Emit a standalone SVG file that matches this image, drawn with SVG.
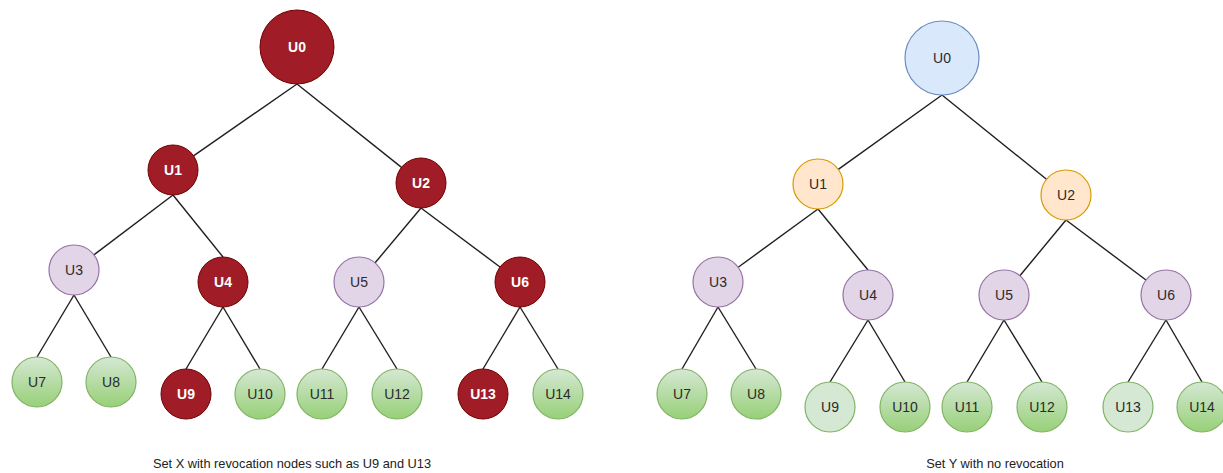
<svg xmlns="http://www.w3.org/2000/svg" width="1223" height="473" viewBox="0 0 1223 473">
<defs>
<linearGradient id="gGreen" x1="0" y1="0" x2="0" y2="1">
<stop offset="0" stop-color="#d5e8d4"/>
<stop offset="1" stop-color="#97d077"/>
</linearGradient>
<style>
.red{fill:#a01c26;stroke:#6f0000;stroke-width:1}
.green{fill:url(#gGreen);stroke:#82b366;stroke-width:1.2}
.lgreen{fill:#d5e8d4;stroke:#82b366;stroke-width:1.2}
.purple{fill:#e1d5e7;stroke:#9673a6;stroke-width:1.2}
.orange{fill:#ffe6cc;stroke:#d79b00;stroke-width:1.2}
.blue{fill:#dae8fc;stroke:#6c8ebf;stroke-width:1.2}
text{font-family:"Liberation Sans",Arial,sans-serif;font-size:14px;text-anchor:middle;dominant-baseline:central}
.wt{fill:#ffffff;font-weight:bold}
.dt{fill:#2b2b2b}
.cap{font-size:12.8px;fill:#222222}
.edges line{stroke:#1f1f1f;stroke-width:1.4}
</style>
</defs>
<rect width="1223" height="473" fill="#ffffff"/>
<g class="edges" id="connectors">
<line x1="297" y1="84" x2="193.5" y2="155.8"/>
<line x1="297" y1="84" x2="401.5" y2="167.4"/>
<line x1="173" y1="195" x2="93.9" y2="254.9"/>
<line x1="173" y1="195" x2="223" y2="257"/>
<line x1="421" y1="208" x2="375.1" y2="262.8"/>
<line x1="421" y1="208" x2="500" y2="267"/>
<line x1="74" y1="295" x2="37" y2="357"/>
<line x1="74" y1="295" x2="111" y2="357"/>
<line x1="223" y1="307" x2="186" y2="369"/>
<line x1="223" y1="307" x2="260" y2="369"/>
<line x1="359" y1="307" x2="322" y2="369"/>
<line x1="359" y1="307" x2="397" y2="369"/>
<line x1="520" y1="307" x2="483" y2="369"/>
<line x1="520" y1="307" x2="558" y2="369"/>
<line x1="942" y1="95" x2="838.3" y2="169.4"/>
<line x1="942" y1="95" x2="1046.5" y2="179.3"/>
<line x1="818" y1="209" x2="738.2" y2="267.3"/>
<line x1="818" y1="209" x2="868" y2="270"/>
<line x1="1066" y1="220" x2="1019.9" y2="275.7"/>
<line x1="1066" y1="220" x2="1146" y2="280"/>
<line x1="718" y1="307" x2="682" y2="369"/>
<line x1="718" y1="307" x2="756" y2="369"/>
<line x1="868" y1="320" x2="830" y2="382"/>
<line x1="868" y1="320" x2="905" y2="382"/>
<line x1="1004" y1="320" x2="967" y2="382"/>
<line x1="1004" y1="320" x2="1042" y2="382"/>
<line x1="1166" y1="320" x2="1128" y2="382"/>
<line x1="1166" y1="320" x2="1202" y2="382"/>
</g>
<g id="X-U0"><circle class="red" cx="297" cy="47" r="37"/><text class="wt" x="297" y="47">U0</text></g>
<g id="X-U1"><circle class="red" cx="173" cy="170" r="25"/><text class="wt" x="173" y="170">U1</text></g>
<g id="X-U2"><circle class="red" cx="421" cy="183" r="25"/><text class="wt" x="421" y="183">U2</text></g>
<g id="X-U3"><circle class="purple" cx="74" cy="270" r="25"/><text class="dt" x="74" y="270">U3</text></g>
<g id="X-U4"><circle class="red" cx="223" cy="282" r="25"/><text class="wt" x="223" y="282">U4</text></g>
<g id="X-U5"><circle class="purple" cx="359" cy="282" r="25"/><text class="dt" x="359" y="282">U5</text></g>
<g id="X-U6"><circle class="red" cx="520" cy="282" r="25"/><text class="wt" x="520" y="282">U6</text></g>
<g id="X-U7"><circle class="green" cx="37" cy="382" r="25"/><text class="dt" x="37" y="382">U7</text></g>
<g id="X-U8"><circle class="green" cx="111" cy="382" r="25"/><text class="dt" x="111" y="382">U8</text></g>
<g id="X-U9"><circle class="red" cx="186" cy="394" r="25"/><text class="wt" x="186" y="394">U9</text></g>
<g id="X-U10"><circle class="green" cx="260" cy="394" r="25"/><text class="dt" x="260" y="394">U10</text></g>
<g id="X-U11"><circle class="green" cx="322" cy="394" r="25"/><text class="dt" x="322" y="394">U11</text></g>
<g id="X-U12"><circle class="green" cx="397" cy="394" r="25"/><text class="dt" x="397" y="394">U12</text></g>
<g id="X-U13"><circle class="red" cx="483" cy="394" r="25"/><text class="wt" x="483" y="394">U13</text></g>
<g id="X-U14"><circle class="green" cx="558" cy="394" r="25"/><text class="dt" x="558" y="394">U14</text></g>
<g id="Y-U0"><circle class="blue" cx="942" cy="58" r="37"/><text class="dt" x="942" y="58">U0</text></g>
<g id="Y-U1"><circle class="orange" cx="818" cy="184" r="25"/><text class="dt" x="818" y="184">U1</text></g>
<g id="Y-U2"><circle class="orange" cx="1066" cy="195" r="25"/><text class="dt" x="1066" y="195">U2</text></g>
<g id="Y-U3"><circle class="purple" cx="718" cy="282" r="25"/><text class="dt" x="718" y="282">U3</text></g>
<g id="Y-U4"><circle class="purple" cx="868" cy="295" r="25"/><text class="dt" x="868" y="295">U4</text></g>
<g id="Y-U5"><circle class="purple" cx="1004" cy="295" r="25"/><text class="dt" x="1004" y="295">U5</text></g>
<g id="Y-U6"><circle class="purple" cx="1166" cy="295" r="25"/><text class="dt" x="1166" y="295">U6</text></g>
<g id="Y-U7"><circle class="green" cx="682" cy="394" r="25"/><text class="dt" x="682" y="394">U7</text></g>
<g id="Y-U8"><circle class="green" cx="756" cy="394" r="25"/><text class="dt" x="756" y="394">U8</text></g>
<g id="Y-U9"><circle class="lgreen" cx="830" cy="407" r="25"/><text class="dt" x="830" y="407">U9</text></g>
<g id="Y-U10"><circle class="green" cx="905" cy="407" r="25"/><text class="dt" x="905" y="407">U10</text></g>
<g id="Y-U11"><circle class="green" cx="967" cy="407" r="25"/><text class="dt" x="967" y="407">U11</text></g>
<g id="Y-U12"><circle class="green" cx="1042" cy="407" r="25"/><text class="dt" x="1042" y="407">U12</text></g>
<g id="Y-U13"><circle class="lgreen" cx="1128" cy="407" r="25"/><text class="dt" x="1128" y="407">U13</text></g>
<g id="Y-U14"><circle class="green" cx="1202" cy="407" r="25"/><text class="dt" x="1202" y="407">U14</text></g>
<g id="captions">
<text class="cap" x="292" y="463">Set X with revocation nodes such as U9 and U13</text>
<text class="cap" x="995" y="463">Set Y with no revocation</text>
</g>
</svg>
